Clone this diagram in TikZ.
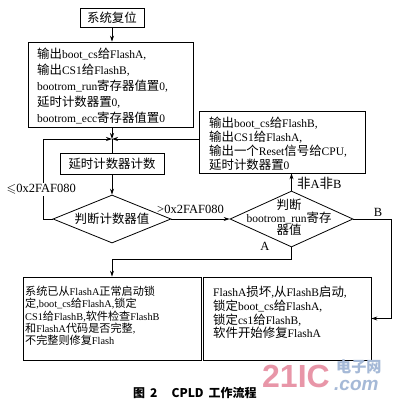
\documentclass[tikz,border=0pt]{standalone}
\usepackage{fontspec}
\usepackage{amssymb}
\setmainfont{Liberation Serif}
\newfontfamily\cjk[Scale=1.08]{Noto Sans CJK SC}
\newfontfamily\capfont{Noto Sans CJK SC}
\newfontfamily\wmfont{Liberation Sans}
\newcommand\zh[1]{{\cjk #1}}
\usetikzlibrary{shapes.geometric,arrows.meta}
\definecolor{wmpink}{RGB}{232,150,168}
\definecolor{wmblue}{RGB}{165,185,215}
\begin{document}
\begin{tikzpicture}[x=1pt,y=-1pt,
  box/.style={draw, line width=0.8pt, inner sep=0pt},
  txt/.style={anchor=north west, inner sep=0pt, align=left},
  lbl/.style={inner sep=0pt, font=\fontsize{12.5}{14}\selectfont},
  conn/.style={line width=0.8pt},
  arr/.style={conn, -{Stealth[length=6pt,width=4pt]}},
  dia/.style={diamond, draw, line width=0.8pt, inner sep=0pt}
]
\useasboundingbox (0,0) rectangle (400,405);
\fill[white] (0,0) rectangle (400,405);

% boxes
\node[box, minimum width=64pt, minimum height=19pt, font=\fontsize{11.5}{14}\selectfont] (reset) at (112,17.5) {\zh{系统复位}};
\node[box, minimum width=165pt, minimum height=85pt] (big) at (110.5,84.5) {};
\node[txt, font=\fontsize{11.5}{16.2}\selectfont] (bigt) at (37,47.5) {\zh{输出}boot\_cs\zh{给}FlashA,\\ \zh{输出}CS1\zh{给}FlashB,\\ bootrom\_run\zh{寄存器值置}0,\\ \zh{延时计数器置}0,\\ bootrom\_ecc\zh{寄存器值置}0};

\node[box, minimum width=166pt, minimum height=62pt] (rt) at (282,142) {};
\node[txt, font=\fontsize{11.5}{14}\selectfont] (rtt) at (209,116.5) {\zh{输出}boot\_cs\zh{给}FlashB,\\ \zh{输出}CS1\zh{给}FlashA,\\ \zh{输出一个}Reset\zh{信号给}CPU,\\ \zh{延时计数器置}0};

\node[box, minimum width=104pt, minimum height=21pt, font=\fontsize{11.5}{14}\selectfont] (delay) at (112,163.5) {\zh{延时计数器计数}};

\node[dia, aspect=2.46, minimum width=118pt, minimum height=48pt, font=\fontsize{11.5}{14}\selectfont] (d1) at (112,219) {\zh{判断计数器值}};

\node[dia, aspect=2.2, minimum width=123pt, minimum height=56pt] (d2) at (291.5,219) {};
\node[inner sep=0pt, align=center, font=\fontsize{11.5}{12.5}\selectfont] (d2t) at (289,217.5) {\zh{判断}\\bootrom\_run\zh{寄存}\\ \zh{器值}};

\node[box, minimum width=178pt, minimum height=83pt] (lb) at (112,318.5) {};
\node[txt, font=\fontsize{10.3}{12.2}\selectfont] (lbt) at (25,286) {\zh{系统已从}FlashA\zh{正常启动锁}\\ \zh{定},boot\_cs\zh{给}FlashA,\zh{锁定}\\ CS1\zh{给}FlashB,\zh{软件检查}FlashB\\ \zh{和}FlashA\zh{代码是否完整},\\ \zh{不完整则修复}Flash};

\node[box, minimum width=168pt, minimum height=83pt] (rb) at (287,318.5) {};
\node[txt, font=\fontsize{11.5}{13.7}\selectfont] (rbt) at (213,286) {FlashA\zh{损坏},\zh{从}FlashB\zh{启动},\\ \zh{锁定}boot\_cs\zh{给}FlashA,\\ \zh{锁定}cs1\zh{给}FlashB,\\ \zh{软件开始修复}FlashA};

% helper coordinates
\coordinate (j) at (112,139);
\coordinate (lc) at (43,139);
\coordinate (bx) at (391,0);
\coordinate (ay) at (0,259);

% connectors
\draw[arr] (reset.south) -- (reset.south |- big.north);
\draw[arr] (big.south -| j) -- (j);
\draw[arr] (d1.west) -| (lc) -- (j);
\draw[arr] (rt.west |- j) -- (j);
\draw[conn] (j) -- (delay.north);
\draw[arr] (delay.south) -- (d1.north);
\draw[arr] (d1.east) -- (d2.west);
\draw[arr] (d2.north) -- (d2.north |- rt.south);
\draw[arr] (d2.east) -| (rb.east -| bx) -- (rb.east);
\draw[arr] (d2.south) -- (d2.south |- ay) -| (lb.north);

% labels
\node[lbl, inner sep=1.5pt, fill=white, anchor=base west] (le) at (5,192.5) {$\leqslant$0x2FAF080};
\node[lbl, anchor=base west] (gt) at (157,213.5) {>0x2FAF080};
\node[lbl, anchor=base west] (nab) at (297,188.5) {\zh{非}A\zh{非}B};
\node[lbl, anchor=base] (la) at (265,250.5) {A};
\node[lbl, anchor=base] (lbB) at (378,216.5) {B};

% watermark
\node[font=\wmfont\bfseries\fontsize{32}{32}\selectfont, text=wmpink, anchor=base west, inner sep=0pt] (wm1) at (262,387) {21IC};
\node[font=\cjk\bfseries\fontsize{14}{14}\selectfont, text=wmblue, anchor=base west, inner sep=0pt] (wm2) at (336,372.5) {电子网};
\node[font=\wmfont\bfseries\itshape\fontsize{19}{19}\selectfont, text=wmblue, anchor=base west, inner sep=0pt] (wm3) at (334,390) {.com};

% caption
\node[font=\capfont\bfseries\fontsize{12}{14}\selectfont, anchor=base west, inner sep=0pt] (cap) at (133,397) {图\hspace{5pt}2\hspace{14pt}CPLD\hspace{5pt}工作流程};
\end{tikzpicture}
\end{document}
